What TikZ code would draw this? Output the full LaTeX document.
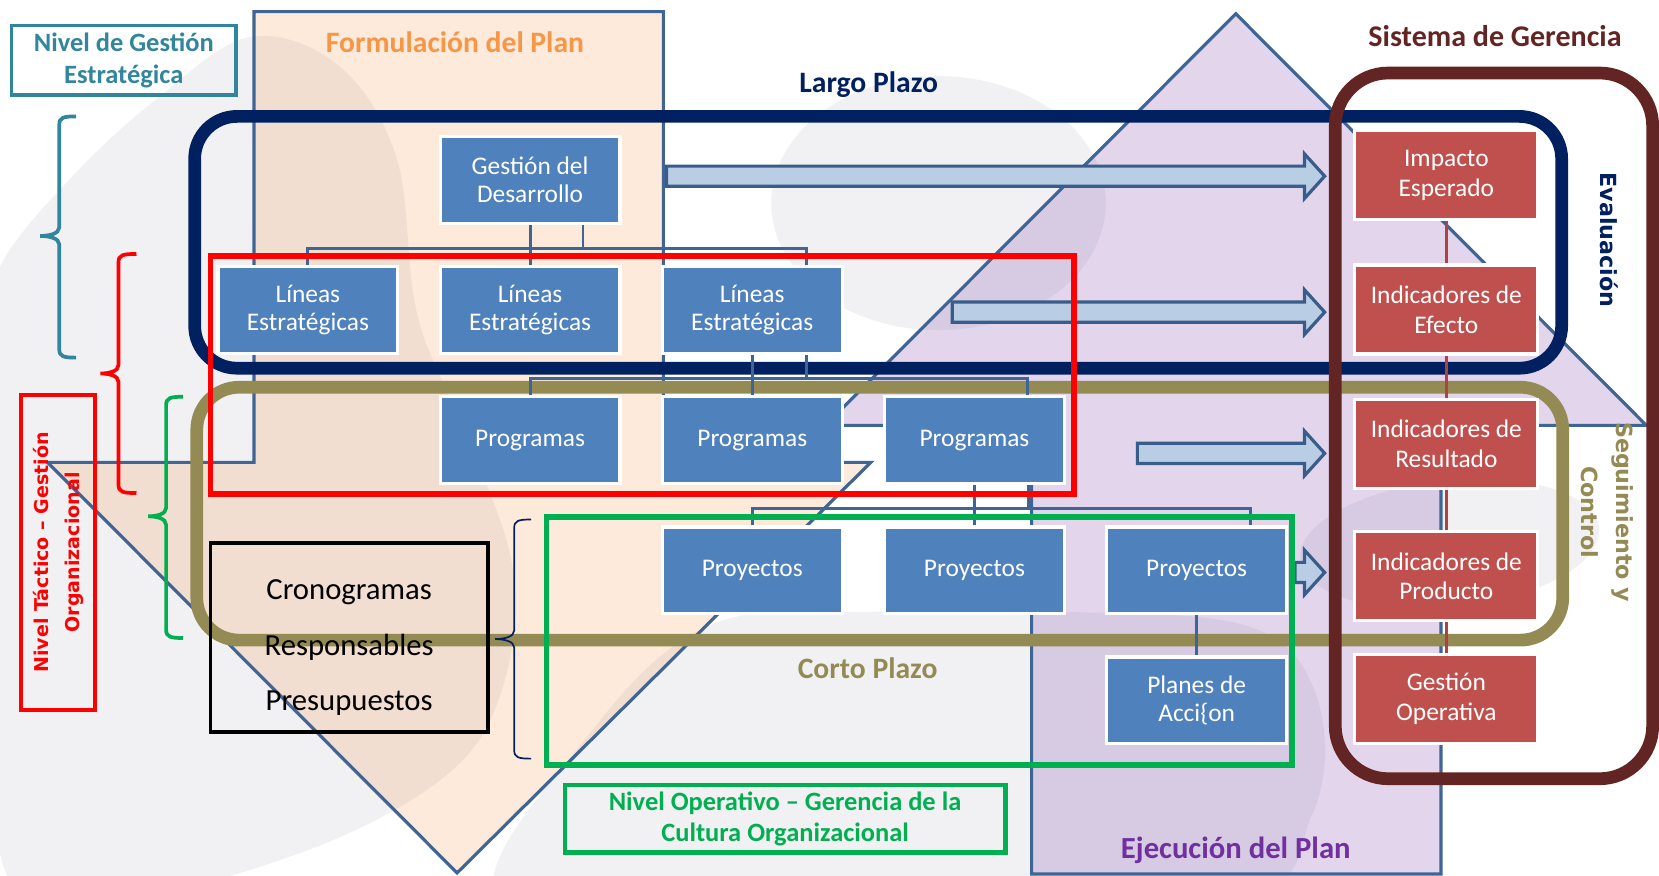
\documentclass[tikz,border=0pt]{standalone}
\usepackage{fontspec}
\setmainfont{Carlito}
\newfontfamily\vsans{DejaVu Sans}
\usetikzlibrary{calc}
\definecolor{boxblue}{HTML}{4F81BD}
\definecolor{boxred}{HTML}{C0504D}
\definecolor{edgeblue}{HTML}{3F6496}
\definecolor{arrfill}{HTML}{B9CDE5}
\definecolor{arredge}{HTML}{385D8A}
\definecolor{navyc}{HTML}{002060}
\definecolor{olivec}{HTML}{948A54}
\definecolor{brownc}{HTML}{632523}
\definecolor{tealc}{HTML}{31859C}
\definecolor{greenc}{HTML}{00B050}
\definecolor{redc}{HTML}{FF0000}
\definecolor{orangec}{HTML}{F79646}
\definecolor{purplec}{HTML}{7030A0}
\definecolor{blobc}{HTML}{F1F1F4}
\definecolor{redline}{HTML}{B0413E}
\tikzset{
  blob/.style={fill=blobc, draw=none},
  shapesty/.style={draw=edgeblue, line width=1.5pt, fill opacity=0.2, line join=miter},
  bluebox/.style={rectangle, fill=boxblue, draw=white, line width=1.5pt, minimum width=85pt, minimum height=41pt, inner sep=1pt, align=center, text=white, font=\fontsize{12}{13.5}\selectfont},
  redbox/.style={bluebox, fill=boxred, minimum width=86.5pt, minimum height=42pt, font=\fontsize{12}{14}\selectfont},
  conn/.style={draw=edgeblue, line width=1.4pt},
  redconn/.style={draw=redline, line width=1.4pt},
  blockarrow/.style={fill=arrfill, draw=arredge, line width=1.5pt, line join=miter},
  framesty/.style={line width=6pt, rounded corners=20pt},
  heading/.style={font=\bfseries\fontsize{14}{16}\selectfont, inner sep=0pt},
  bracesty/.style={line width=1.75pt},
  sidelabel/.style={font=\vsans\bfseries\fontsize{10.5}{16.5}\selectfont, align=center, inner sep=0pt},
}
\newcommand{\blockarrow}[2]{%
  \draw[blockarrow] (#1,#2-9.5) -- (1233,#2-9.5) -- (1233,#2-21) -- (1252,#2) -- (1233,#2+21) -- (1233,#2+9.5) -- (#1,#2+9.5) -- cycle;}
\newcommand{\mybrace}[7]{%
  \draw[#1] (#3,#5) .. controls (#2+4,#5) and (#2,#5+1) .. (#2,#5+8) -- (#2,#6-8) .. controls (#2,#6-2) and (#4+8,#6) .. (#4,#6) .. controls (#4+8,#6) and (#2,#6+2) .. (#2,#6+8) -- (#2,#7-8) .. controls (#2,#7-1) and (#2+4,#7) .. (#3,#7);}
\begin{document}
\begin{tikzpicture}[x=0.5pt,y=-0.5pt]
\useasboundingbox (0,0) rectangle (1568,827);
\begin{scope}
\clip (0,0) rectangle (1568,827);
\fill[white] (0,0) rectangle (1568,827);
% background blobs
\fill[blob] plot[smooth cycle, tension=0.6] coordinates {(236,35) (320,62) (375,150) (395,300) (445,420) (485,540) (475,650) (425,730) (300,800) (120,850) (10,835) (-15,600) (-10,330) (0,252) (70,165) (150,92)};
\fill[blob] (887,192) ellipse [x radius=158, y radius=120];
\fill[blob] plot[smooth cycle, tension=0.6] coordinates {(470,850) (560,690) (673,590) (830,578) (1000,578) (1180,592) (1245,660) (1240,770) (1150,860) (700,890)};
\fill[blob, rotate around={6:(1370,514)}] (1370,514) ellipse [x radius=142, y radius=60];
% plan shapes
\filldraw[shapesty, fill=orangec] (240,11) -- (627,11) -- (627,437) -- (823,437) -- (432,825) -- (45,437) -- (240,437) -- cycle;
\filldraw[shapesty, fill=purplec] (1168,13) -- (1556,402) -- (1362,402) -- (1362,826) -- (975,826) -- (975,402) -- (780,402) -- cycle;
\end{scope}

% long / short term frames
\draw[framesty, navyc] (184,110) rectangle (1476,348);
\draw[framesty, olivec] (186,366) rectangle (1477,605);

% blue boxes
\node[bluebox] (gd) at (501,170) {Gestión del\\Desarrollo};
\node[bluebox] (l1) at (291,293) {Líneas\\Estratégicas};
\node[bluebox] (l2) at (501,293) {Líneas\\Estratégicas};
\node[bluebox] (l3) at (711,293) {Líneas\\Estratégicas};
\node[bluebox] (p1) at (501,416) {Programas};
\node[bluebox] (p2) at (711,416) {Programas};
\node[bluebox] (p3) at (921,416) {Programas};
\node[bluebox] (y1) at (711,539) {Proyectos};
\node[bluebox] (y2) at (921,539) {Proyectos};
\node[bluebox] (y3) at (1131,539) {Proyectos};
\node[bluebox] (pa) at (1131,662) {Planes de\\Acci\{on};

% red boxes
\node[redbox] (imp) at (1367,165.5) {Impacto\\Esperado};
\node[redbox] (ef) at (1367,292.5) {Indicadores de\\Efecto};
\node[redbox] (res) at (1367,419.5) {Indicadores de\\Resultado};
\node[redbox] (prod) at (1367,544.5) {Indicadores de\\Producto};
\node[redbox] (gop) at (1367,660.5) {Gestión\\Operativa};

% hierarchy connectors
\coordinate (b1) at (0,235);
\coordinate (b2) at (0,358);
\coordinate (b3) at (0,481);
\draw[conn] (gd.south) -- (l2.north);
\draw[conn] ([xshift=25pt]gd.south) -- ([xshift=25pt]gd.south |- b1);
\draw[conn] (l1.north) -- (l1.north |- b1) -- ([xshift=25.5pt]l3.north |- b1) -- ([xshift=25.5pt]l3.north);
\draw[conn] (l3.south) -- (p2.north);
\draw[conn] ([xshift=25.5pt]l3.south) -- ([xshift=25.5pt]l3.south |- b2);
\draw[conn] (p1.north) -- (p1.north |- b2) -- ([xshift=25pt]p3.north |- b2) -- ([xshift=25pt]p3.north);
\draw[conn] (p3.south) -- (y2.north);
\draw[conn] ([xshift=25.5pt]p3.south) -- ([xshift=25.5pt]p3.south |- b3);
\draw[conn] (y1.north) -- (y1.north |- b3) -- ([xshift=25.5pt]y3.north |- b3) -- ([xshift=25.5pt]y3.north);
\draw[conn] (y3.south) -- (pa.north);
\draw[redconn] (imp.south) -- (ef.north);
\draw[redconn] (ef.south) -- (res.north);
\draw[redconn] (res.south) -- (prod.north);
\draw[redconn] (prod.south) -- (gop.north);

% block arrows
\blockarrow{630}{166.5}
\blockarrow{900}{295}
\blockarrow{1075}{428.5}
\blockarrow{1224}{541}

% level frames
\draw[redc, line width=2.75pt] (199,242) rectangle (1015,467);
\draw[greenc, line width=2.75pt] (516.5,489) rectangle (1221,723);

% braces
\mybrace{bracesty, tealc}{56}{72}{38}{110}{223}{338}
\mybrace{bracesty, redc}{112}{129}{95}{240}{353}{466}
\mybrace{bracesty, greenc}{157}{173}{140}{375}{488}{603}
\mybrace{line width=0.8pt, navyc}{486}{502}{468}{491}{604}{717}

% label boxes
\node[draw=tealc, line width=1.75pt, minimum width=106pt, minimum height=33pt, inner sep=0pt, align=center, text=tealc, font=\bfseries\fontsize{12.5}{15}\selectfont] (nge) at (117,57) {Nivel de Gestión\\Estratégica};
\node[draw=redc, line width=1.75pt, rotate=90, minimum width=149pt, minimum height=35pt, inner sep=0pt, align=center, text=redc, font=\vsans\bfseries\fontsize{9}{14.5}\selectfont] (ntg) at (55,522) {Nivel Táctico – Gestión\\Organizacional};
\node[draw=greenc, line width=2.25pt, minimum width=208pt, minimum height=32pt, inner sep=0pt, align=center, text=greenc, font=\bfseries\fontsize{12.5}{14.5}\selectfont] (nop) at (742,774) {Nivel Operativo – Gerencia de la\\Cultura Organizacional};
\node[draw=black, line width=1.75pt, minimum width=131pt, minimum height=89.5pt, inner sep=0pt] (cbox) at (330,602.5) {};
\node[align=center, inner sep=0pt, font=\fontsize{14.5}{26.25}\selectfont] (ctext) at (330,612) {Cronogramas\\Responsables\\Presupuestos};

% management system frame
\draw[framesty, brownc, rounded corners=25pt] (1262,69) rectangle (1562,736);

% headings
\node[heading, text=orangec] (tform) at (430,40) {Formulación del Plan};
\node[heading, text=navyc] (tlargo) at (821,80) {Largo Plazo};
\node[heading, text=olivec] (tcorto) at (820,632) {Corto Plazo};
\node[heading, text=brownc, font=\bfseries\fontsize{14.2}{16}\selectfont] (tsis) at (1413,34) {Sistema de Gerencia};
\node[heading, text=purplec, font=\bfseries\fontsize{14.5}{16}\selectfont] (tejec) at (1168,804) {Ejecución del Plan};
\node[sidelabel, text=navyc, rotate=-90] (teval) at (1521,227) {Evaluación};
\node[sidelabel, text=olivec, rotate=-90] (tseg) at (1519.5,484) {Seguimiento y\\Control};
\end{tikzpicture}
\end{document}
